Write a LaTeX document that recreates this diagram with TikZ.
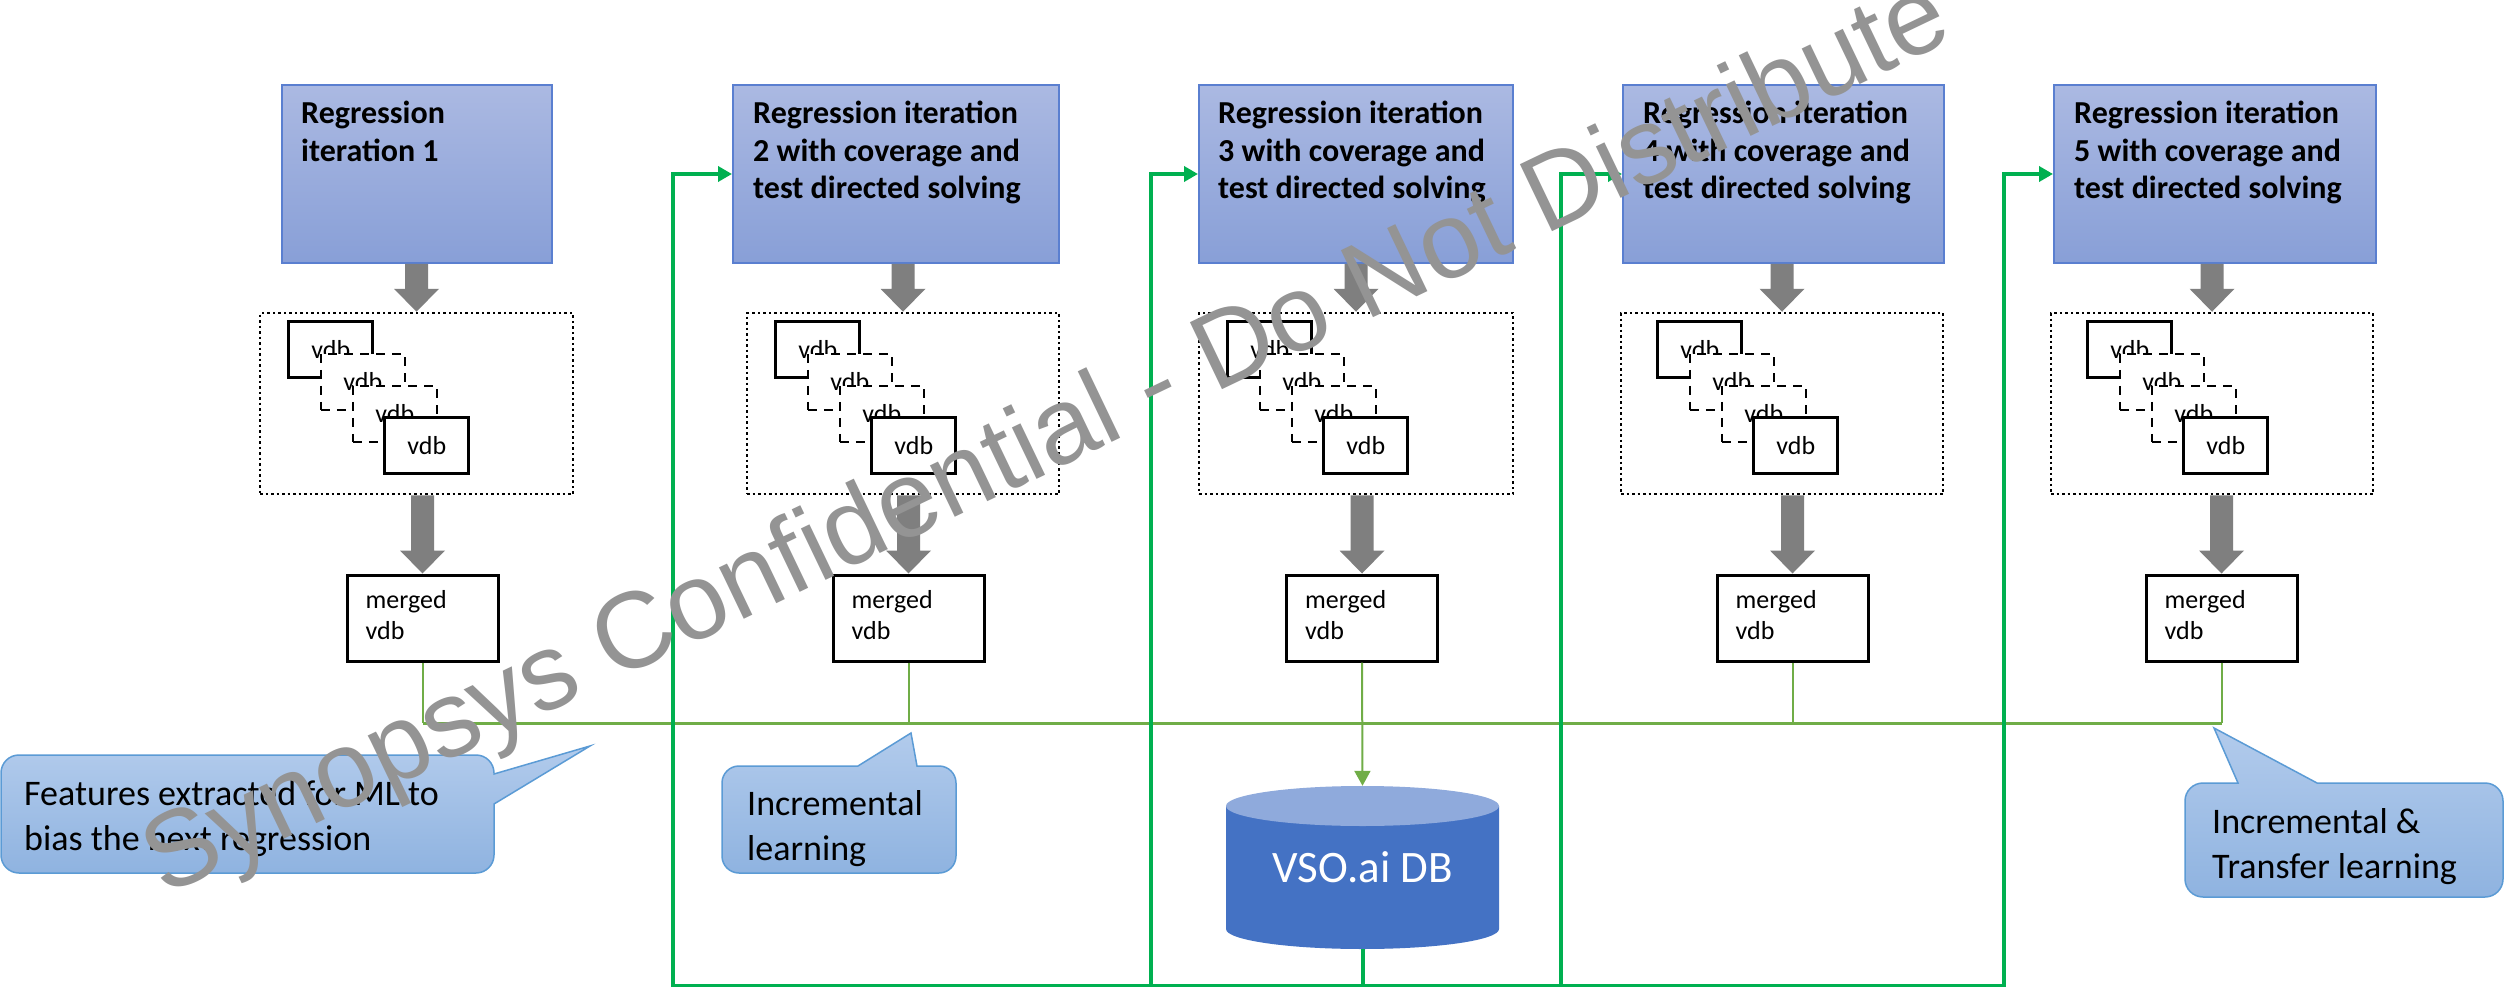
\documentclass[tikz,border=0pt]{standalone}
\usepackage{fontspec}
\setmainfont{Carlito}
\newfontfamily\wmfont{Liberation Sans}
\usetikzlibrary{arrows.meta,calc}
\definecolor{rtop}{RGB}{171,185,226}
\definecolor{rbot}{RGB}{136,159,215}
\definecolor{rborder}{RGB}{90,127,208}
\definecolor{ctop}{RGB}{178,203,236}
\definecolor{cbot}{RGB}{143,179,224}
\definecolor{cborder}{RGB}{91,155,213}
\definecolor{dbbody}{RGB}{68,114,196}
\definecolor{dbtop}{RGB}{143,170,220}
\definecolor{gthickc}{RGB}{0,176,80}
\definecolor{gthinc}{RGB}{112,173,71}
\definecolor{arrgray}{RGB}{127,127,127}
\definecolor{wmgray}{RGB}{148,148,148}
\newcommand\blockarr[2]{%
  \fill[arrgray] ($(#1)+(-11.5,0)$) -- ($(#2)+(-11.5,-23)$) -- ($(#2)+(-22.5,-23)$) -- (#2)
    -- ($(#2)+(22.5,-23)$) -- ($(#2)+(11.5,-23)$) -- ($(#1)+(11.5,0)$) -- cycle;}
\begin{document}
\begin{tikzpicture}[x=1pt,y=-1pt,
  rbox/.style={draw=rborder, line width=2pt, top color=rtop, bottom color=rbot, minimum height=178pt, inner sep=0pt},
  rtext/.style={anchor=base west, align=left, inner sep=0pt, font=\bfseries\fontsize{32}{37.5}\selectfont},
  dotbox/.style={draw=black, line width=2.5pt, dash pattern=on 2.5pt off 3pt, minimum height=181pt, inner sep=0pt},
  vsolid/.style={draw=black, fill=white, line width=3pt, minimum width=84pt, minimum height=56pt, inner sep=0pt, font=\fontsize{26}{31}\selectfont},
  vdash/.style={vsolid, line width=2.5pt, dash pattern=on 9pt off 7pt},
  mbox/.style={draw=black, line width=3pt, minimum width=151pt, minimum height=86pt, inner sep=0pt},
  mtext/.style={anchor=base west, align=left, inner sep=0pt, font=\fontsize{26}{31}\selectfont},
  ctext/.style={anchor=base west, align=left, inner sep=0pt, font=\fontsize{36}{45}\selectfont},
  callout/.style={draw=cborder, line width=1.5pt, top color=ctop, bottom color=cbot},
  gthick/.style={draw=gthickc, line width=4pt, -{Triangle[length=14pt,width=15pt]}},
  gthin/.style={draw=gthinc, line width=2pt},
  wm/.style={anchor=base west, inner sep=0pt, rotate=25.6, text=wmgray, font=\wmfont\fontsize{108}{120}\selectfont}
]
\useasboundingbox (0,0) rectangle (2504,987);
\fill[white] (0,0) rectangle (2504,987);

% regression boxes (text anchors give the baseline of the last line)
\node[rbox, minimum width=270pt] (r1) at (417,174) {};
\node[rbox, minimum width=326pt] (r2) at (896,174) {};
\node[rbox, minimum width=314pt] (r3) at (1356,174) {};
\node[rbox, minimum width=321pt] (r4) at (1783.5,174) {};
\node[rbox, minimum width=322pt] (r5) at (2215,174) {};
\node[rtext] (r1t) at ($(r1.north west)+(20,77.5)$) {Regression\\iteration 1};
\node[rtext] (r2t) at ($(r2.north west)+(21,115)$) {Regression iteration\\2 with coverage and\\test directed solving};
\node[rtext] (r3t) at ($(r3.north west)+(20,115)$) {Regression iteration\\3 with coverage and\\test directed solving};
\node[rtext] (r4t) at ($(r4.north west)+(21,115)$) {Regression iteration\\4 with coverage and\\test directed solving};
\node[rtext] (r5t) at ($(r5.north west)+(21,115)$) {Regression iteration\\5 with coverage and\\test directed solving};

% dotted groups
\node[dotbox, minimum width=313pt] (d1) at (416.5,403.5) {};
\node[dotbox, minimum width=312pt] (d2) at (903,403.5) {};
\node[dotbox, minimum width=314pt] (d3) at (1356,403.5) {};
\node[dotbox, minimum width=322pt] (d4) at (1782,403.5) {};
\node[dotbox, minimum width=322pt] (d5) at (2212,403.5) {};

\foreach \g/\o in {d1/72,d2/72,d3/72,d4/80,d5/80}{
  \node[vsolid] (\g a) at ($(\g.north west)+(\o,38)$) {vdb};
  \node[vdash] (\g b) at ($(\g a)+(32,32)$) {vdb};
  \node[vdash] (\g c) at ($(\g b)+(32,32)$) {vdb};
  \node[vsolid] (\g d) at ($(\g c)+(32,32)$) {vdb};
}

% merged boxes
\node[mbox] (m1) at (422.5,618) {};
\node[mbox] (m2) at (908.5,618) {};
\node[mbox] (m3) at (1362,618) {};
\node[mbox] (m4) at (1792.5,618) {};
\node[mbox] (m5) at (2221.5,618) {};
\foreach \m in {m1,m2,m3,m4,m5}{
  \node[mtext] (\m t) at ($(\m.north west)+(20,66)$) {merged\\vdb};
}

% block arrows
\foreach \i in {1,2,3,4,5}{
  \blockarr{d\i.north |- r\i.south}{d\i.north}
  \blockarr{m\i.north |- d\i.south}{m\i.north}
}

% database
\fill[dbbody] (1226,806) -- (1226,929) arc[start angle=180, end angle=0, x radius=136.5, y radius=20] -- (1499,806) -- cycle;
\fill[dbtop] (1362.5,806) ellipse[x radius=136.5, y radius=20];
\node[text=white, font=\fontsize{45}{54}\selectfont, minimum width=273pt, minimum height=163pt, inner sep=0pt] (db) at (1362.5,867.5) {VSO.ai DB};

% thin green collection lines
\coordinate (hl) at (0,723);
\draw[gthin] (m1.south) -- (m1.south |- hl);
\draw[gthin] (m2.south) -- (m2.south |- hl);
\draw[gthin] (m4.south) -- (m4.south |- hl);
\draw[gthin] (m5.south) -- (m5.south |- hl);
\draw[gthin, line width=3pt] (m1.south |- hl) -- (m5.south |- hl);
\draw[gthin, -{Triangle[length=15pt,width=16pt]}] (m3.south) -- (db.north);

% thick green feedback lines
\coordinate (gb2) at (673,986);
\coordinate (gb3) at (1151,986);
\coordinate (gb4) at (1561,986);
\coordinate (gb5) at (2004,986);
\draw[gthick] (db.south) |- (gb2) |- (r2.west);
\draw[gthick] (db.south) |- (gb3) |- (r3.west);
\draw[gthick] (db.south) |- (gb4) |- (r4.west);
\draw[gthick] (db.south) |- (gb5) |- (r5.west);

% callouts
\path[callout] (19,755) -- (476,755) arc[start angle=270, end angle=360, radius=18]
  -- (494,774) -- (590,746) -- (494,804) -- (494,855) arc[start angle=0, end angle=90, radius=18]
  -- (19,873) arc[start angle=90, end angle=180, radius=18]
  -- (1,773) arc[start angle=180, end angle=270, radius=18] -- cycle;
\node[ctext] (c1t) at (24,850) {Features extracted for ML to\\bias the next regression};

\path[callout] (739,766) -- (858,766) -- (911,733) -- (917,766) -- (939,766)
  arc[start angle=270, end angle=360, radius=17] -- (956,856)
  arc[start angle=0, end angle=90, radius=17] -- (739,873)
  arc[start angle=90, end angle=180, radius=17] -- (722,783)
  arc[start angle=180, end angle=270, radius=17] -- cycle;
\node[ctext] (c2t) at (747,860) {Incremental\\learning};

\path[callout] (2203,783) -- (2238,783) -- (2214,728) -- (2317,783) -- (2485,783)
  arc[start angle=270, end angle=360, radius=18] -- (2503,879)
  arc[start angle=0, end angle=90, radius=18] -- (2203,897)
  arc[start angle=90, end angle=180, radius=18] -- (2185,801)
  arc[start angle=180, end angle=270, radius=18] -- cycle;
\node[ctext] (c3t) at (2212,878) {Incremental \&\\Transfer learning};

% watermark
\node[wm] (wmk) at (164,897) {Synopsys Confidential - Do Not Distribute};
\end{tikzpicture}
\end{document}
